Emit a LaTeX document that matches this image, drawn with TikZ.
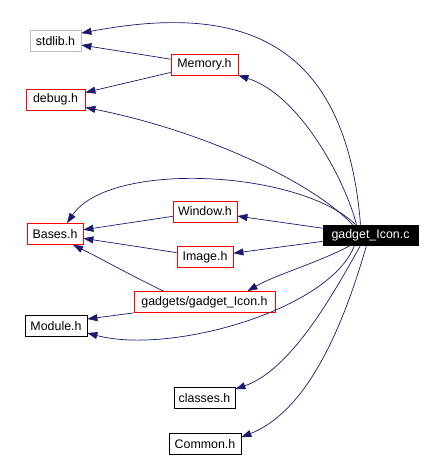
\documentclass[tikz,border=0pt]{standalone}
\usepackage{fontspec}
\setmainfont{Liberation Sans}
\usetikzlibrary{arrows.meta}
\definecolor{edgeblue}{HTML}{191970}
\definecolor{boxred}{HTML}{FF0000}
\definecolor{boxgray}{HTML}{BFBFBF}
\begin{document}
\begin{tikzpicture}[x=1pt,y=-1pt,
  box/.style={draw, line width=0.8pt, minimum height=21pt, inner xsep=1pt, inner ysep=0pt, font=\fontsize{12.4}{14}\selectfont},
  redbox/.style={box, draw=boxred},
  graybox/.style={box, draw=boxgray},
  blackbox/.style={box, draw=black},
  edge/.style={draw=edgeblue, line width=0.7pt, -{Triangle[length=10pt,width=7pt]}, fill=none},
]
\useasboundingbox (0,0) rectangle (441,457);
\node[graybox, minimum width=51pt] (stdlib) at (55.5,41) {stdlib.h};
\node[redbox, minimum width=67pt] (Memory) at (204.5,64.5) {Memory.h};
\node[redbox, minimum width=59pt] (debug) at (55.5,99.5) {debug.h};
\node[redbox, minimum width=64pt] (Window) at (205,211.5) {Window.h};
\node[redbox, minimum width=56pt] (Bases) at (55,234) {Bases.h};
\node[box, fill=black, text=white, minimum width=95pt, minimum height=20pt] (gic) at (370.5,235) {gadget\_Icon.c};
\node[redbox, minimum width=56pt] (Image) at (205,257) {Image.h};
\node[redbox, minimum width=141pt] (gih) at (204.5,302) {gadgets/gadget\_Icon.h};
\node[blackbox, minimum width=62pt] (Module) at (56,326) {Module.h};
\node[blackbox, minimum width=61pt] (classes) at (204.5,398) {classes.h};
\node[blackbox, minimum width=72pt] (Common) at (205,444) {Common.h};

\draw[edge] (Memory) -- (stdlib);
\draw[edge] (Memory) -- (debug);
\draw[edge] ([xshift=-10pt]gic.north) .. controls (345,30) and (230,5) .. ([yshift=-3pt]stdlib.north east);
\draw[edge] ([xshift=-14pt]gic.north) .. controls (345,180) and (300,95) .. (Memory.south east);
\draw[edge] ([xshift=-18pt]gic.north) .. controls (310,180) and (200,130) .. ([yshift=-8pt]debug.east);
\draw[edge] ([xshift=-15pt]gic.north) .. controls (300,170) and (110,160) .. ([xshift=12pt]Bases.north);
\draw[edge] (gic) -- (Window);
\draw[edge] (gic) -- (Image);
\draw[edge] (Window) -- (Bases);
\draw[edge] (Image) -- (Bases);
\draw[edge] ([xshift=-41pt]gih.north) .. controls (130,275) and (100,258) .. ([xshift=18pt]Bases.south);
\draw[edge] ([xshift=-20pt]gic.south) .. controls (320,262) and (275,275) .. ([xshift=43pt]gih.north);
\draw[edge] (gih.south west) -- ([yshift=7pt]Module.east);
\draw[edge] ([xshift=-16pt]gic.south) .. controls (330,310) and (170,355) .. ([yshift=-7pt]Module.east);
\draw[edge] ([xshift=-10pt]gic.south) .. controls (330,300) and (290,370) .. ([yshift=-2pt]classes.north east);
\draw[edge] ([xshift=-4pt]gic.south) .. controls (345,320) and (310,410) .. ([yshift=-4pt]Common.north east);
\end{tikzpicture}
\end{document}
